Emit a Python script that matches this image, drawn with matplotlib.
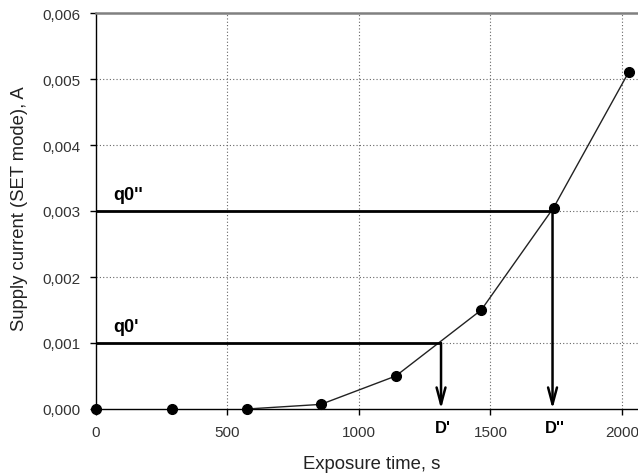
import matplotlib
matplotlib.use("Agg")
import matplotlib.pyplot as plt
from matplotlib.ticker import FuncFormatter
import matplotlib.transforms as mtransforms

plt.rcParams['font.family'] = ['Liberation Sans', 'DejaVu Sans']

# Data
exposure_time = [0, 290, 575, 855, 1140, 1465, 1740, 2025]
supply_current = [0.0, 0.0, 0.0, 0.00007, 0.0005, 0.0015, 0.00305, 0.0051]
line_start = 2  # curve drawn from the third point on

q_levels = [0.001, 0.003]
q_labels = ["q0'", "q0''"]
d_times = [1312, 1736]
d_labels = ["D'", "D''"]

x_ticks = [0, 500, 1000, 1500, 2000]
y_ticks = [0.000, 0.001, 0.002, 0.003, 0.004, 0.005, 0.006]

fig = plt.figure(figsize=(6.38, 4.77), dpi=100)
ax = fig.add_axes([96/638, 1 - 410/477, 1 - 96/638, (410 - 14)/477])

ax.set_xlim(0, 2061)
ax.set_ylim(0, 0.006)

# grid
for xv in x_ticks[1:]:
    ax.axvline(xv, color='#666666', lw=0.8, ls=(0, (1, 2)), zorder=1)
for yv in y_ticks[1:-1]:
    ax.axhline(yv, color='#666666', lw=0.8, ls=(0, (1, 2)), zorder=1)

# curve
ax.plot(exposure_time[line_start:], supply_current[line_start:], color='#222222', lw=1.0, zorder=3)
ax.plot(exposure_time, supply_current, 'o', color='black', ms=7, zorder=4, clip_on=False)

trans = mtransforms.blended_transform_factory(ax.transData, ax.transAxes)
# threshold lines and arrows
for q, lab, d, dl in zip(q_levels, q_labels, d_times, d_labels):
    ax.plot([0, d], [q, q], color='black', lw=2.0, zorder=3, solid_capstyle='butt')
    ax.annotate('', xy=(d, 0), xytext=(d, q),
                arrowprops=dict(arrowstyle='->,head_length=0.75,head_width=0.2',
                                color='black', lw=1.8, mutation_scale=16,
                                shrinkA=0, shrinkB=0), zorder=3)
    ax.text(65, q + 0.00012, lab, fontsize=13, fontweight='bold', ha='left', va='bottom')
    ax.text(d + 8, -0.028, dl, transform=trans, fontsize=12, fontweight='bold',
            ha='center', va='top')

ax.set_xticks(x_ticks)
ax.set_yticks(y_ticks)
ax.yaxis.set_major_formatter(FuncFormatter(lambda v, p: f"{v:.3f}".replace('.', ',')))
ax.tick_params(direction='out', length=4.5, width=1, labelsize=11, colors='black',
               labelcolor='#333333', pad=7)

ax.spines['right'].set_visible(False)
ax.spines['top'].set_color('#808080')
ax.spines['top'].set_linewidth(1.8)
ax.spines['left'].set_linewidth(1.0)
ax.spines['bottom'].set_linewidth(1.0)

ax.set_xlabel('Exposure time, s', fontsize=13.3, color='#222222')
ax.set_ylabel('Supply current (SET mode), A', fontsize=13.3, color='#222222')
ax.xaxis.set_label_coords((371.5 - 96) / (638 - 96), -(465 - 410) / 396)
ax.yaxis.set_label_coords(-(96 - 20) / 542, (410 - 209) / 396)
ax.xaxis.label.set_va('center')
ax.yaxis.label.set_va('center')

fig.savefig('out.png', dpi=100)
